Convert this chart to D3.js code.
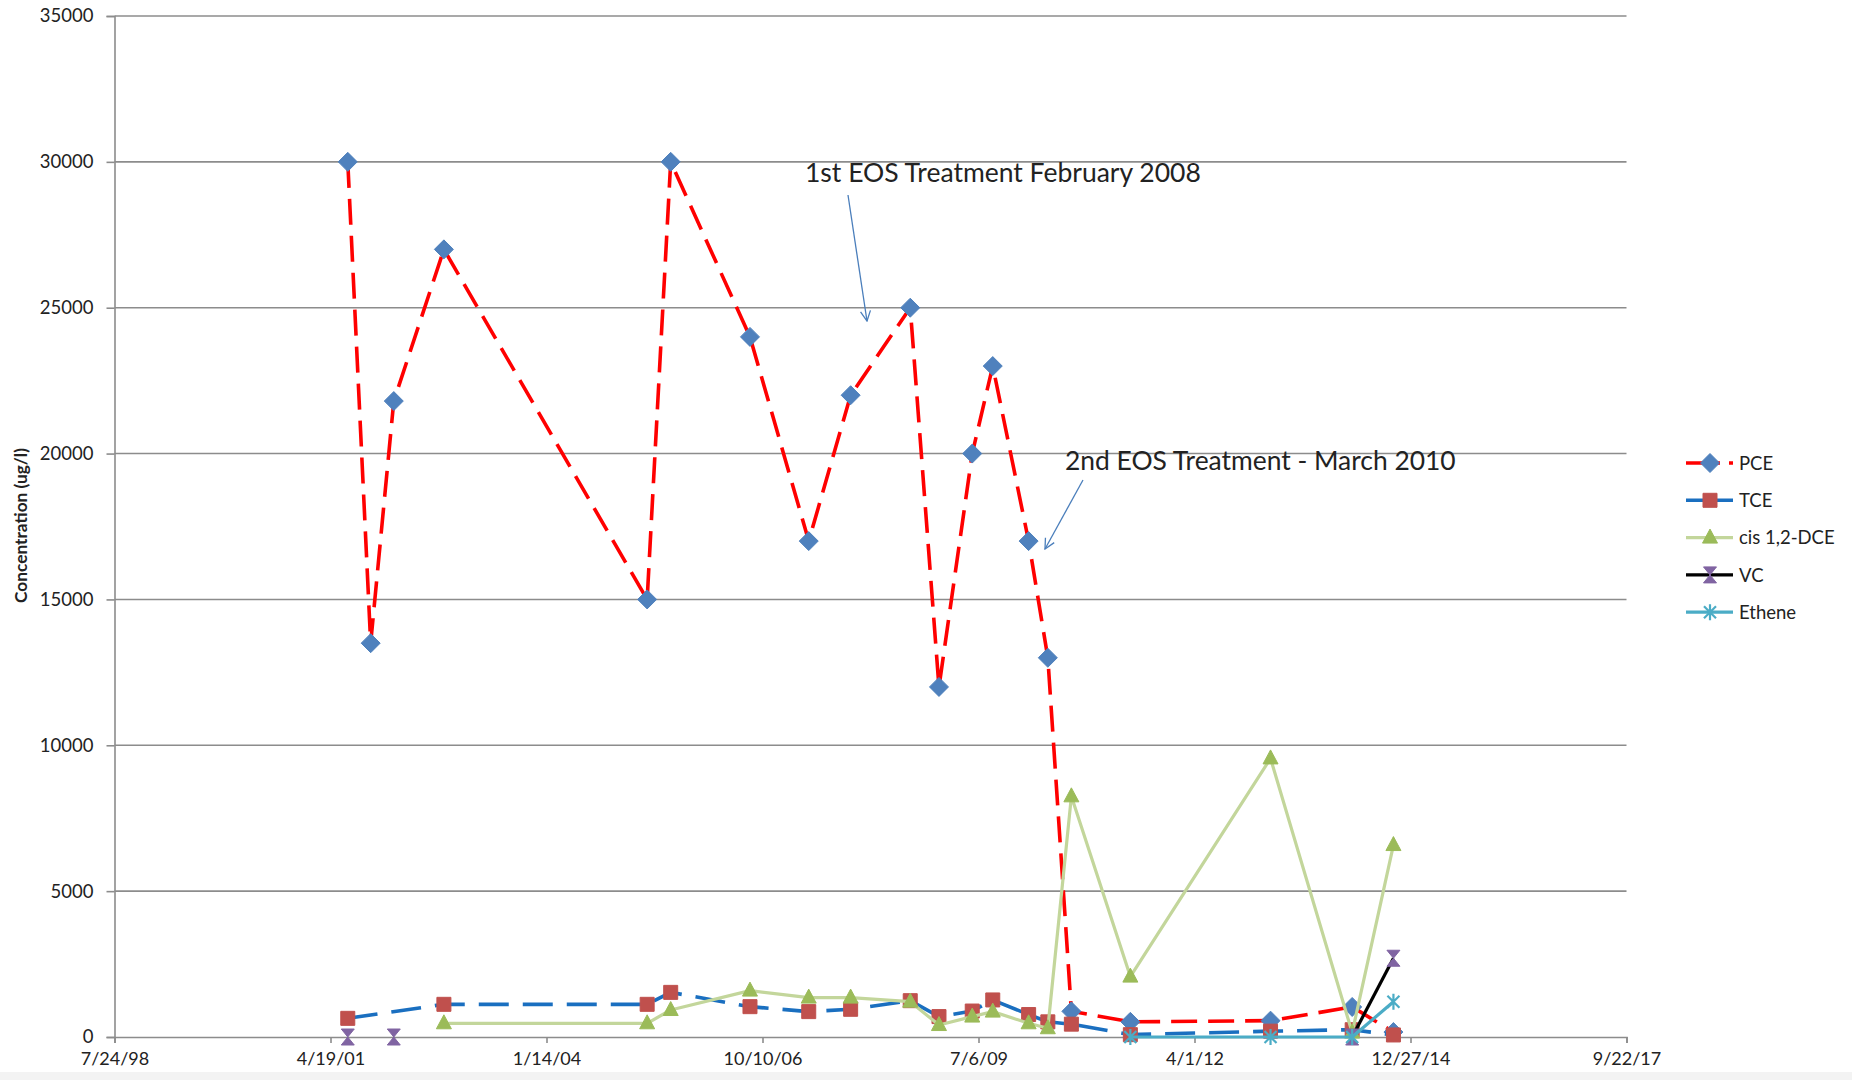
<!DOCTYPE html>
<html><head><meta charset="utf-8">
<script src="https://cdn.jsdelivr.net/npm/d3@7"></script>
<style>
body{margin:0;background:#fff;}
svg{display:block;}
text{font-family:Lato,"Open Sans",sans-serif;fill:#222;}
</style>
</head><body>
<script>
// ---------- data ----------
const sampleDates = ["2001-07-08","2001-10-22","2002-02-06","2002-09-26","2005-04-24","2005-08-11","2006-08-13","2007-05-12","2007-11-22","2008-08-24","2009-01-04","2009-06-07","2009-09-10","2010-02-23","2010-05-23","2010-09-09","2011-06-09","2013-03-19","2014-04-01","2014-10-09"];
const pce    = [30000,13500,21800,27000,15000,30000,24000,17000,22000,25000,12000,20000,23000,17000,13000,880,520,560,1030,170];
const tce    = [640,null,null,1120,1120,1530,1040,870,950,1245,700,890,1270,770,520,440,80,200,250,70];
const cisDCE = [null,null,null,470,470,925,1590,1350,1350,1210,410,700,870,470,300,8250,2070,9550,150,6580];
const vc     = [0,null,0,null,null,null,null,null,null,null,null,null,null,null,null,null,null,null,0,2700];
const ethene = [null,null,null,null,null,null,null,null,null,null,null,null,null,null,null,null,0,0,0,1210];

const xTickDates  = ["1998-07-24","2001-04-19","2004-01-14","2006-10-10","2009-07-06","2012-04-01","2014-12-27","2017-09-22"];
const xTickLabels = ["7/24/98","4/19/01","1/14/04","10/10/06","7/6/09","4/1/12","12/27/14","9/22/17"];
const yTicks = [0,5000,10000,15000,20000,25000,30000,35000];

const seriesNames = ["PCE","TCE","cis 1,2-DCE","VC","Ethene"];
const annotations = [
  {text:"1st EOS Treatment February 2008"},
  {text:"2nd EOS Treatment - March 2010"}
];

// ---------- setup ----------
const W = 1852, H = 1080;
const parse = d3.utcParse("%Y-%m-%d");
const svg = d3.select("body").append("svg").attr("width",W).attr("height",H);

svg.append("rect").attr("x",0).attr("y",1072).attr("width",W).attr("height",8).attr("fill","#f3f3f3");

const x = d3.scaleUtc().domain([parse(xTickDates[0]), parse(xTickDates[xTickDates.length-1])]).range([114.5,1626.5]);
const y = d3.scaleLinear().domain([0,35000]).range([1037,16]);

const gridColor = "#8c8c8c";

// gridlines
svg.append("g").selectAll("line").data(yTicks.filter(d=>d>0)).join("line")
  .attr("x1",x.range()[0]).attr("x2",x.range()[1])
  .attr("y1",d=>y(d)).attr("y2",d=>y(d))
  .attr("stroke",gridColor).attr("stroke-width",1.6);

// y axis
const yAxis = svg.append("g").attr("transform",`translate(${x.range()[0]},0)`)
  .call(d3.axisLeft(y).tickValues(yTicks).tickSize(8).tickPadding(13).tickFormat(d=>d));
yAxis.select(".domain").attr("stroke",gridColor).attr("stroke-width",1.6);
yAxis.selectAll(".tick line").attr("stroke",gridColor).attr("stroke-width",1.6);
yAxis.selectAll("text").attr("font-size",18.5).attr("fill","#222").attr("font-family","Lato,'Open Sans',sans-serif");

// x axis
const xAxis = svg.append("g").attr("transform",`translate(0,${y(0)})`)
  .call(d3.axisBottom(x).tickValues(xTickDates.map(parse)).tickSize(6).tickPadding(9)
    .tickFormat((d,i)=>xTickLabels[i]));
xAxis.select(".domain").attr("stroke",gridColor).attr("stroke-width",1.6);
xAxis.selectAll(".tick line").attr("stroke",gridColor).attr("stroke-width",1.6);
xAxis.selectAll("text").attr("font-size",18).attr("fill","#222").attr("font-family","Lato,'Open Sans',sans-serif");

// y label
const yl = svg.append("text").attr("transform","translate(27,525.5) rotate(-90)")
  .attr("text-anchor","middle").attr("font-size",16).attr("font-weight","bold")
  .text("Concentration (ug/l)");
yl.attr("font-size", 16*155/yl.node().getComputedTextLength());

// ---------- markers ----------
const shapes = {
  diamond: "M0,-9.5L9.5,0L0,9.5L-9.5,0Z",
  square: "M-7,-7h14v14h-14Z",
  triangle: "M0,-8.5L7.5,5.5L-7.5,5.5Z",
  hourglass: "M-6.5,-8L6.5,-8L-6.5,8L6.5,8Z",
  star: "M-6,-6L6,6M-6,6L6,-6M0,-8L0,8"
};

const series = [
  {name:seriesNames[0], values:pce,    line:"#ff0000", width:3.6, dash:"26 11", legendDash:"34 9 4 10", gaps:false, shape:"diamond",  fill:"#4f81bd", stroke:"#4f81bd"},
  {name:seriesNames[1], values:tce,    line:"#1a6fc0", width:3.6, dash:"30 14", legendDash:null, gaps:false, shape:"square",   fill:"#c0504d", stroke:"#c0504d"},
  {name:seriesNames[2], values:cisDCE, line:"#c3d69b", width:3.2, dash:null,    legendDash:null, gaps:false, shape:"triangle", fill:"#9bbb59", stroke:"#9bbb59"},
  {name:seriesNames[3], values:vc,     line:"#000000", width:3.2, dash:null,    legendDash:null, gaps:true,  shape:"hourglass",fill:"#8064a2", stroke:"#8064a2"},
  {name:seriesNames[4], values:ethene, line:"#4bacc6", width:3.2, dash:null,    legendDash:null, gaps:false, shape:"star",     fill:"none",    stroke:"#4bacc6"}
];

const line = d3.line().defined(d=>d.v!=null).x(d=>x(d.date)).y(d=>y(d.v));

series.forEach(s=>{
  let pts = sampleDates.map((d,i)=>({date:parse(d), v:s.values[i]}));
  // trim leading/trailing nulls; connect across interior nulls unless series shows gaps
  const valid = pts.filter(p=>p.v!=null);
  const linePts = s.gaps ? pts : valid;
  const g = svg.append("g");
  g.append("path").datum(linePts).attr("d",line).attr("fill","none")
    .attr("stroke",s.line).attr("stroke-width",s.width)
    .attr("stroke-dasharray",s.dash).attr("stroke-linejoin","round");
  g.selectAll("path.m").data(valid).join("path").attr("class","m")
    .attr("transform",p=>`translate(${x(p.date)},${y(p.v)})`)
    .attr("d",shapes[s.shape]).attr("fill",s.fill).attr("stroke",s.stroke)
    .attr("stroke-width",s.shape==="star"?2.2:1);
});

// ---------- annotations ----------
const defs = svg.append("defs");
defs.append("marker").attr("id","arr").attr("viewBox","0 0 12 12").attr("refX",11).attr("refY",6)
  .attr("markerWidth",12).attr("markerHeight",12).attr("markerUnits","userSpaceOnUse").attr("orient","auto")
  .append("path").attr("d","M1,1L11,6L1,11").attr("fill","none").attr("stroke","#4a7ebb").attr("stroke-width",1.3);

const annPos = [
  {x:805, y:182, w:396, x1:848, y1:195, x2:867, y2:321},
  {x:1065, y:470, w:391, x1:1083, y1:480, x2:1045, y2:549}
];
annotations.forEach((a,i)=>{
  const p = annPos[i];
  const t = svg.append("text").attr("x",p.x).attr("y",p.y).attr("font-size",26).text(a.text);
  const len = t.node().getComputedTextLength();
  t.attr("font-size", 26*p.w/len);
  svg.append("line").attr("x1",p.x1).attr("y1",p.y1).attr("x2",p.x2).attr("y2",p.y2)
    .attr("stroke","#4a7ebb").attr("stroke-width",1.3).attr("marker-end","url(#arr)");
});

// ---------- legend ----------
const lg = svg.append("g");
series.forEach((s,i)=>{
  const cy = 463 + i*37.3;
  lg.append("line").attr("x1",1686).attr("x2",1733).attr("y1",cy).attr("y2",cy)
    .attr("stroke",s.line).attr("stroke-width",s.width)
    .attr("stroke-dasharray", s.legendDash);
  lg.append("path").attr("transform",`translate(1710,${cy})`).attr("d",shapes[s.shape])
    .attr("fill",s.fill).attr("stroke",s.stroke).attr("stroke-width",s.shape==="star"?2.2:1);
  lg.append("text").attr("x",1739).attr("y",cy).attr("dy","0.36em").attr("font-size",18.5).text(s.name);
});
</script>
</body></html>
